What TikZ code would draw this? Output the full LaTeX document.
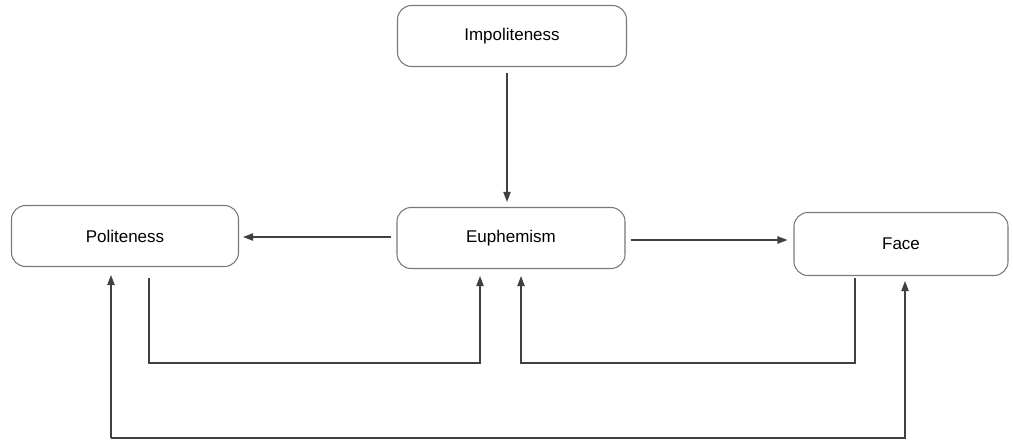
\documentclass[tikz,border=0pt]{standalone}
\usepackage{fontspec}
\setmainfont{Liberation Sans}
\usepackage{xcolor}
\usepackage{tikz}
\usetikzlibrary{positioning, calc, arrows.meta}
\definecolor{boxgray}{RGB}{120, 120, 120}
\definecolor{linegray}{RGB}{64, 64, 64}

\begin{document}
\begin{tikzpicture}[x=0.03cm, y=-0.03cm,
        concept/.style={draw=boxgray, line width=0.9pt, rounded corners=0.42cm, minimum height=1.83cm, inner sep=0pt, font=\fontsize{14.5}{17}\selectfont},
        link/.style={draw=linegray, line width=0.9pt, -{Triangle[length=0.3cm, width=0.22cm]}}]
        \useasboundingbox (0,0) rectangle (1013,440);
        \node[concept, minimum width=6.87cm] (imp) at (512,36) {Impoliteness};
        \node[concept, minimum width=6.81cm] (pol) at (125,236) {Politeness};
        \node[concept, minimum width=6.84cm] (euph) at (511,238) {Euphemism};
        \node[concept, minimum width=6.42cm, minimum height=1.89cm] (face) at (901,244) {Face};
        \draw[link] ($(imp.south)+(-5,6)$) -- ($(euph.north)+(-4,-5)$);
        \draw[link] ($(euph.west)+(-5,-1)$) -- ($(pol.east)+(4,1)$);
        \draw[link] ($(euph.east)+(5,2)$) -- ($(face.west)+(-6,-4)$);
        \draw[link] ($(pol.south)+(24,11)$) |- (480,363) -- ($(euph.south)+(-31,7)$);
        \draw[link] ($(face.south)+(-46,2)$) |- (521,363) -- ($(euph.south)+(10,7)$);
        \draw[link] (111,438) -- ($(pol.south)+(-14,8)$);
        \draw[link] (111,438) -| ($(face.south)+(4,5)$);
    \end{tikzpicture}
\end{document}
